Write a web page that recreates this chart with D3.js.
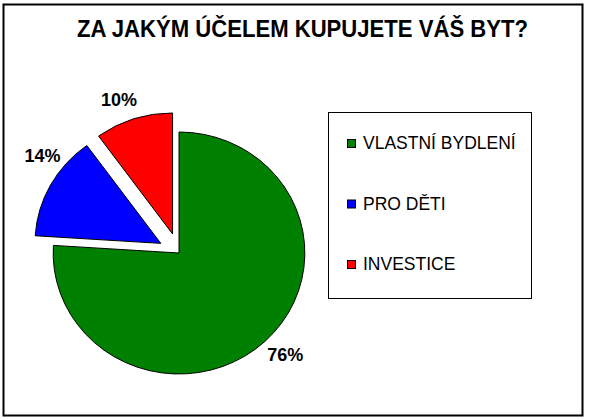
<!DOCTYPE html>
<html>
<head>
<meta charset="utf-8">
<script src="https://cdn.jsdelivr.net/npm/d3@7"></script>
<style>
  body { margin: 0; background: #fff; }
  text { font-family: Arial, "Liberation Sans", sans-serif; }
</style>
</head>
<body>
<script>
(function(){

    //chart data
    var categories = ["VLASTNÍ BYDLENÍ", "PRO DĚTI", "INVESTICE"];
    var values = [76, 14, 10];
    var colors = ["#008000", "#0000ff", "#ff0000"];
    var exploded = [0, 20, 20];

    var width = 592,
        height = 420;

    var svg = d3.select("body")
        .append("svg")
        .attr("width", width)
        .attr("height", height);

    //outer frame
    svg.append("rect")
        .attr("x", 3.5).attr("y", 4.5)
        .attr("width", 579).attr("height", 411)
        .attr("fill", "#fff")
        .attr("stroke", "#000")
        .attr("stroke-width", 2);

    svg.append("text")
        .attr("x", 77).attr("y", 37)
        .attr("textLength", 451)
        .attr("lengthAdjust", "spacingAndGlyphs")
        .style("font-size", "23px")
        .style("font-weight", "bold")
        .text("ZA JAKÝM ÚČELEM KUPUJETE VÁŠ BYT?");

    //pie is slightly wider than tall in the picture
    var cx = 179, cy = 253, r = 121, sx = 1.04;
    var labelR = r + 23;
    //small angle nudges (degrees) so labels sit like Excel's best fit
    var labelNudge = [-2, 9, -3];

    var pie = d3.pie().sort(null).value(function(d){ return d; });
    var arcs = pie(values);
    var arc = d3.arc().innerRadius(0).outerRadius(r);

    function offset(d, i){
        var mid = (d.startAngle + d.endAngle) / 2;
        return [Math.sin(mid) * exploded[i] * sx, -Math.cos(mid) * exploded[i]];
    }

    var g = svg.append("g").attr("transform", "translate(" + cx + "," + cy + ")");

    g.selectAll(".slice")
        .data(arcs)
        .enter()
        .append("path")
        .attr("class", "slice")
        .attr("transform", function(d, i){
            var o = offset(d, i);
            return "translate(" + o[0] + "," + o[1] + ") scale(" + sx + ",1)";
        })
        .attr("d", arc)
        .attr("fill", function(d, i){ return colors[i]; })
        .attr("stroke", "#000")
        .attr("stroke-width", 1)
        .attr("vector-effect", "non-scaling-stroke");

    g.selectAll(".label")
        .data(arcs)
        .enter()
        .append("text")
        .attr("class", "label")
        .attr("transform", function(d, i){
            var o = offset(d, i);
            var a = (d.startAngle + d.endAngle) / 2 + labelNudge[i] * Math.PI / 180;
            return "translate(" + (o[0] + Math.sin(a) * labelR * sx) + "," + (o[1] - Math.cos(a) * labelR) + ")";
        })
        .attr("text-anchor", "middle")
        .attr("dy", "0.36em")
        .style("font-size", "18px")
        .style("font-weight", "bold")
        .text(function(d){ return d.data + "%"; });

    //legend
    var legend = svg.append("g");
    legend.append("rect")
        .attr("x", 328.5).attr("y", 112.5)
        .attr("width", 203).attr("height", 186)
        .attr("fill", "#fff")
        .attr("stroke", "#000")
        .attr("stroke-width", 1);

    var ly = d3.scalePoint().domain(categories).range([143, 264]);

    var items = legend.selectAll(".item")
        .data(categories)
        .enter()
        .append("g")
        .attr("class", "item")
        .attr("transform", function(d){ return "translate(347," + ly(d) + ")"; });

    items.append("rect")
        .attr("x", 0.5).attr("y", -3.5)
        .attr("width", 8).attr("height", 8)
        .attr("fill", function(d, i){ return colors[i]; })
        .attr("stroke", "#000");

    items.append("text")
        .attr("x", 16).attr("dy", "0.36em")
        .style("font-size", "17.5px")
        .text(function(d){ return d; });

})();
</script>
</body>
</html>
